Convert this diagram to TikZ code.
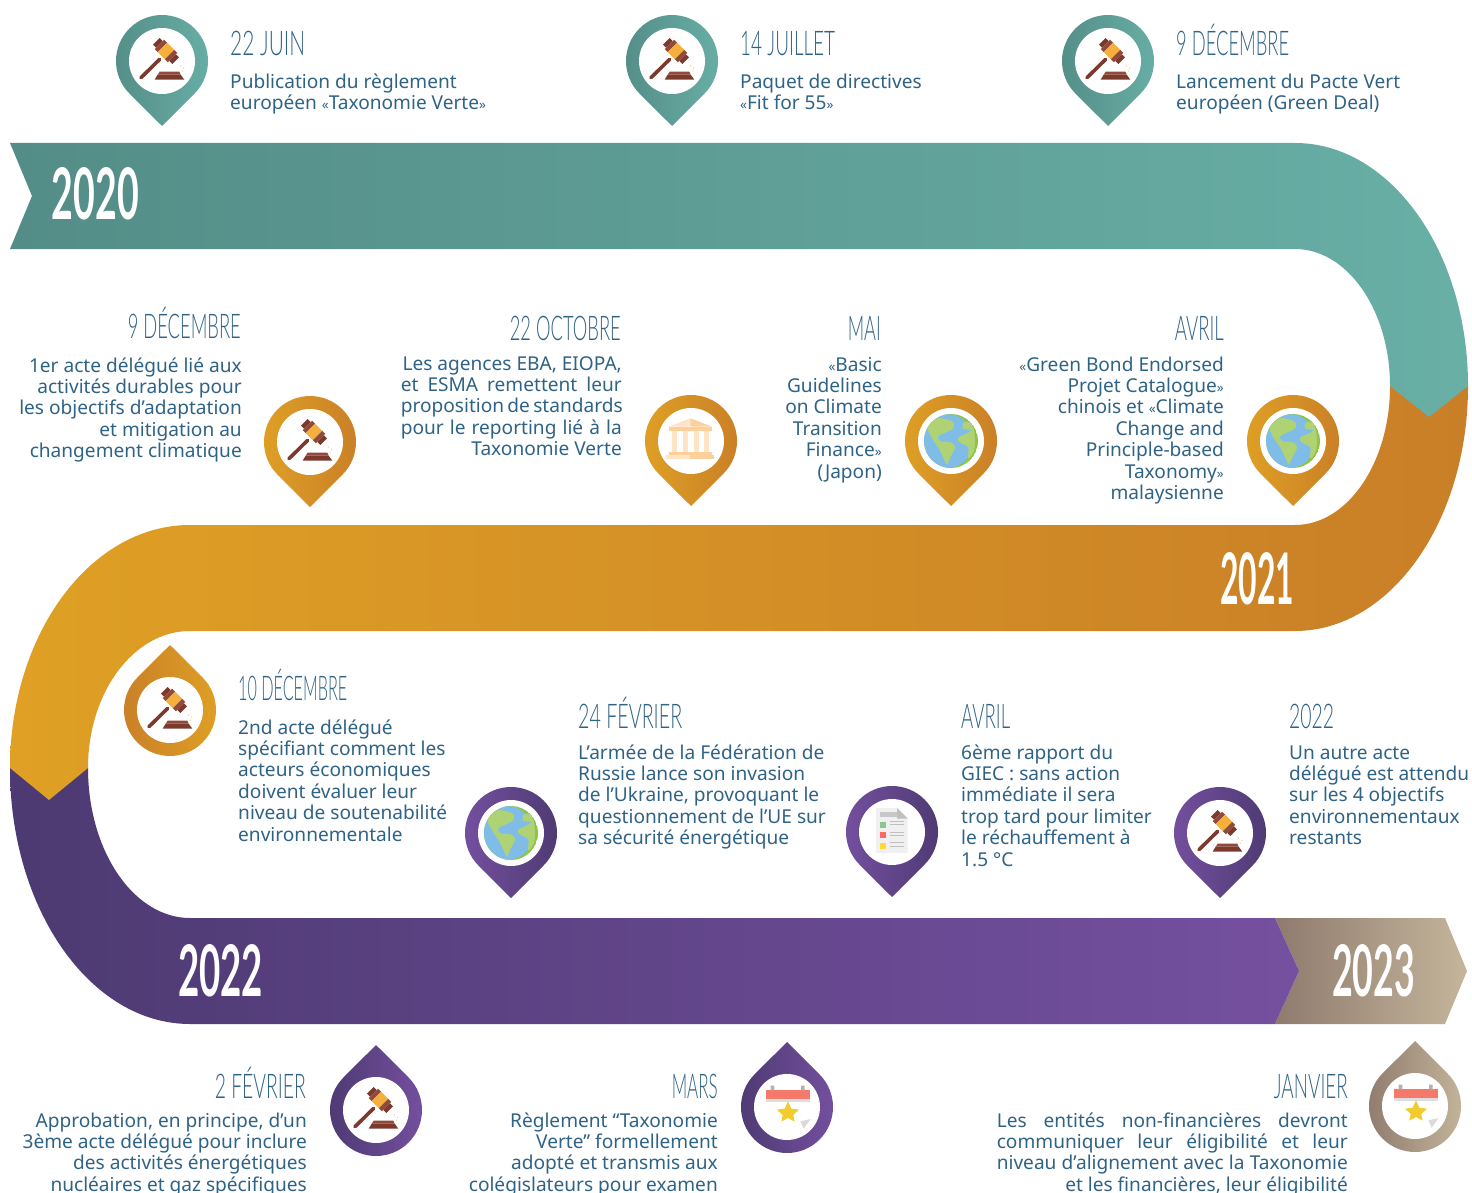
\documentclass[tikz,border=0pt]{standalone}
\usepackage{graphicx}
\usepackage{fontspec}
\setmainfont{Noto Sans}
\newfontfamily\headfam[FakeStretch=0.6]{Lato Light}
\newfontfamily\yearfam[FakeStretch=0.6]{Lato}
\definecolor{bodyc}{HTML}{2F6386}
\definecolor{tealL}{HTML}{548D87}\definecolor{tealR}{HTML}{68AFA6}
\definecolor{oraL}{HTML}{DFA025}\definecolor{oraR}{HTML}{C97F27}
\definecolor{purL}{HTML}{4D3A72}\definecolor{purR}{HTML}{7550A0}
\definecolor{begL}{HTML}{8F7B6E}\definecolor{begR}{HTML}{C4B59B}
\definecolor{wood}{HTML}{7C3A2E}\definecolor{woodl}{HTML}{8F4A3A}
\definecolor{gold}{HTML}{F6AE3D}
\definecolor{globeb}{HTML}{7FBDE8}\definecolor{greenl}{HTML}{AED274}\definecolor{greenr}{HTML}{8CC63F}
\definecolor{bankl}{HTML}{FEE3C4}\definecolor{bankd}{HTML}{FCD09A}
\definecolor{calred}{HTML}{F5796A}\definecolor{calstar}{HTML}{F2CC2E}
\tikzset{
 body/.style={inner sep=0pt,font=\fontsize{19.1}{21.4}\selectfont,text=bodyc},
 bl/.style={body,anchor=north west,align=left},
 br/.style={body,anchor=north east,align=right},
 headl/.style={inner sep=0pt,anchor=base west,text=bodyc,font=\headfam\fontsize{34}{36}\selectfont},
 headr/.style={inner sep=0pt,anchor=base east,text=bodyc,font=\headfam\fontsize{34}{36}\selectfont},
 yearlab/.style={inner sep=0pt,anchor=center,text=white,font=\yearfam\bfseries\fontsize{72}{72}\selectfont},
 icongavel/.pic={
  \begin{scope}[scale=0.3333]\begin{scope}[shift={(-485,-183)}]
   \draw[wood,line width=3.6pt,line cap=round] (422,233) -- (478,178);
   \begin{scope}[shift={(497,153)},rotate=45]
    \fill[wood] (-41,-14) rectangle (-28,14);
    \fill[woodl] (-28,-20) rectangle (-15,20);
    \fill[gold] (-15,-20) rectangle (15,20);
    \fill[woodl] (15,-20) rectangle (28,20);
    \fill[wood] (28,-14) rectangle (41,14);
   \end{scope}
   \fill[woodl] (478,215) -- (537,215) -- (541,224) -- (472,224) -- cycle;
   \fill[wood] (472,224) -- (541,224) -- (552,239) -- (463,239) -- cycle;
   \fill[gold!70] (540,198) circle (2) (550,205) circle (2) (547,213) circle (2);
  \end{scope}\end{scope}},
 iconglobe/.pic={
  \begin{scope}[scale=0.3333]\begin{scope}[shift={(-188,-215)}]
   \begin{scope}
    \clip (188,215) circle (81);
    \fill[greenr] (188,215) circle (81);
    \fill[globeb] (176,215) circle (81);
    \fill[greenl] plot[smooth cycle,tension=.6] coordinates {(118,172) (145,147) (190,155) (196,175) (170,190) (150,200) (155,215) (190,220) (200,235) (185,265) (175,285) (165,265) (150,235) (130,205)};
    \fill[greenl] plot[smooth cycle,tension=.6] coordinates {(210,205) (235,192) (250,182) (224,178) (226,160) (246,160) (258,190) (258,240) (240,268) (240,235) (225,225) (210,215)};
   \end{scope}
  \end{scope}\end{scope}},
 iconbank/.pic={
  \begin{scope}[scale=0.3333]\begin{scope}[shift={(-184,-183)}]
   \fill[bankl] (117,140) -- (182,115) -- (182,140) -- cycle;
   \fill[bankd] (182,115) -- (247,140) -- (182,140) -- cycle;
   \fill[bankd] (117,140) rectangle (247,153);
   \foreach \a in {128,160,192,224}{\fill[bankl] (\a,153) rectangle (\a+15,215);}
   \fill[bankd] (117,215) rectangle (247,226);
   \fill[bankl] (110,226) rectangle (182,237);
   \fill[bankd] (182,226) rectangle (252,237);
  \end{scope}\end{scope}},
 icondoc/.pic={
  \begin{scope}[scale=0.3333]\begin{scope}[shift={(-185,-187)}]
   \fill[black!6,rounded corners=1pt] (137,115) -- (200,115) -- (232,147) -- (232,250) -- (137,250) -- cycle;
   \fill[black!25] (200,115) -- (232,147) -- (200,147) -- cycle;
   \fill[black!22] (148,127) rectangle (200,142);
   \fill[green!50!black!45!white] (148,157) rectangle (166,175);
   \fill[red!60!white] (148,188) rectangle (166,206);
   \fill[yellow!70!orange!80!white] (148,220) rectangle (166,238);
   \foreach \b in {155,165,187,198,219,229}{\draw[black!25,line width=1pt] (178,\b) -- (222,\b);}
  \end{scope}\end{scope}},
 iconcal/.pic={
  \begin{scope}[scale=0.3333]\begin{scope}[shift={(-172,-230)}]
   \fill[black!13] (108,207) rectangle (240,214);
   \fill[calred] (108,178) rectangle (240,207);
   \fill[black!30] (123,166) rectangle (134,180) (214,166) rectangle (225,180);
   \fill[calstar] (175,213) -- (185,235) -- (208,238) -- (191,254) -- (195,274) -- (175,263) -- (155,274) -- (159,254) -- (142,238) -- (165,235) -- cycle;
   \fill[black!14] (212,273) -- (243,266) -- (222,295) -- cycle;
  \end{scope}\end{scope}},
}
% down pin: x,y,left,right,icon
\newcommand\pinD[5]{\begin{scope}[shift={(#1,#2)}]
 \shade[left color=#3,right color=#4] (0,65) -- (32.53,32.53) arc[start angle=45,end angle=-225,radius=46] -- cycle;
 \fill[white] (0,0) circle (33);
 \pic[transform shape] {#5};
 \end{scope}}
\newcommand\pinU[5]{\begin{scope}[shift={(#1,#2)}]
 \shade[left color=#3,right color=#4] (0,-65) -- (32.53,-32.53) arc[start angle=-45,end angle=225,radius=46] -- cycle;
 \fill[white] (0,0) circle (33);
 \pic[transform shape] {#5};
 \end{scope}}
\newcommand\js[2]{\makebox[#1pt][s]{#2}}
\newcommand\hw[2]{\resizebox{#1pt}{\height}{#2}}
\newcommand\yw[2]{\resizebox{#1pt}{52pt}{#2}}
\newcommand\gl{{\fontsize{13.5}{14}\selectfont «}}
\newcommand\gr{{\fontsize{13.5}{14}\selectfont »}}
\begin{document}
\begin{tikzpicture}[x=1pt,y=1pt,yscale=-1]
\useasboundingbox (0,0) rectangle (1472,1193);
\fill[white] (0,0) rectangle (1472,1193);
% ribbons
\shade[left color=begL,right color=begR] (1275,918) -- (1445,918) -- (1467,971) -- (1445,1024) -- (1275,1024) -- (1299,971) -- cycle;
\shade[left color=purL,right color=purR] (10,768) arc[start angle=180,end angle=90,x radius=180,y radius=256] -- (1275,1024) -- (1299,971) -- (1275,918) -- (190,918) arc[start angle=90,end angle=180,x radius=102,y radius=150] -- cycle;
\shade[left color=oraL,right color=oraR] (1468,386) arc[start angle=0,end angle=90,x radius=173,y radius=245] -- (190,631) arc[start angle=-90,end angle=-180,x radius=102,y radius=137] -- (49,800) -- (10,768) arc[start angle=180,end angle=270,x radius=180,y radius=243] -- (1295,525) arc[start angle=90,end angle=0,x radius=95,y radius=139] -- cycle;
\shade[left color=tealL,right color=tealR] (10,143) -- (1295,143) arc[start angle=-90,end angle=0,x radius=173,y radius=243] -- (1429,417) -- (1390,386) arc[start angle=0,end angle=-90,x radius=95,y radius=137] -- (10,249) -- (32,196) -- cycle;
% years
\node[yearlab] (y2020) at (95.5,194) {\yw{87}{2020}};
\node[yearlab] (y2021) at (1257,579) {\yw{74}{2021}};
\node[yearlab] (y2022) at (220.5,971) {\yw{85}{2022}};
\node[yearlab] (y2023) at (1373.5,971) {\yw{83}{2023}};
% pins
\pinD{162}{61}{tealL}{tealR}{icongavel}
\pinD{672}{61}{tealL}{tealR}{icongavel}
\pinD{1108}{61}{tealL}{tealR}{icongavel}
\pinD{310}{442}{oraL}{oraR}{icongavel}
\pinD{691}{441}{oraL}{oraR}{iconbank}
\pinD{951}{441}{oraL}{oraR}{iconglobe}
\pinD{1293}{441}{oraL}{oraR}{iconglobe}
\pinU{170}{710}{oraR}{oraL}{icongavel}
\pinD{511}{833}{purR}{purL}{iconglobe}
\pinD{892}{832}{purR}{purL}{icondoc}
\pinD{1220}{833}{purR}{purL}{icongavel}
\pinU{376}{1110}{purL}{purR}{icongavel}
\pinU{787}{1107}{purL}{purR}{iconcal}
\pinU{1415}{1106}{begL}{begR}{iconcal}
% headings
\node[headl] (h1) at (230,56) {\hw{75}{22 JUIN}};
\node[headl] (h2) at (740,56) {\hw{95}{14 JUILLET}};
\node[headl] (h3) at (1176,56) {\hw{113}{9 DÉCEMBRE}};
\node[headr] (h4) at (241,338) {\hw{113}{9 DÉCEMBRE}};
\node[headr] (h5) at (621,340) {\hw{111}{22 OCTOBRE}};
\node[headr] (h6) at (881,340) {\hw{33}{MAI}};
\node[headr] (h7) at (1224,340) {\hw{49}{AVRIL}};
\node[headl] (h8) at (238,700) {\hw{109}{10 DÉCEMBRE}};
\node[headl] (h9) at (578,728) {\hw{104}{24 FÉVRIER}};
\node[headl] (h10) at (961,728) {\hw{49}{AVRIL}};
\node[headl] (h11) at (1289,728) {\hw{45}{2022}};
\node[headr] (h12) at (306,1098) {\hw{91}{2 FÉVRIER}};
\node[headr] (h13) at (718,1098) {\hw{46}{MARS}};
\node[headr] (h14) at (1348,1098) {\hw{74}{JANVIER}};
% bodies (node top = first baseline - 15)
\node[bl] (t1) at (230,73) {\strut Publication du règlement\\européen \gl Taxonomie Verte\gr};
\node[bl] (t2) at (740,73) {\strut Paquet de directives\\\gl Fit for 55\gr};
\node[bl] (t3) at (1176,73) {\strut Lancement du Pacte Vert\\européen (Green Deal)};
\node[br] (t4) at (242,357) {\strut 1er acte délégué lié aux\\activités durables pour\\les objectifs d’adaptation\\et mitigation au\\changement climatique};
\node[br] (t5) at (622,355) {\strut Les agences EBA, EIOPA,\\\js{221}{et ESMA remettent leur}\\\js{221}{proposition de standards}\\\js{221}{pour le reporting lié à la}\\Taxonomie Verte};
\node[br] (t6) at (882,356) {\strut \gl Basic\\Guidelines\\on Climate\\Transition\\Finance\gr\\(Japon)};
\node[br] (t7) at (1224,356) {\strut \gl Green Bond Endorsed\\Projet Catalogue\gr\\chinois et \gl Climate\\Change and\\Principle-based\\Taxonomy\gr\\malaysienne};
\node[bl] (t8) at (238,719) {\strut 2nd acte délégué\\spécifiant comment les\\acteurs économiques\\doivent évaluer leur\\niveau de soutenabilité\\environnementale};
\node[bl] (t9) at (578,744) {\strut L’armée de la Fédération de\\Russie lance son invasion\\de l’Ukraine, provoquant le\\questionnement de l’UE sur\\sa sécurité énergétique};
\node[bl] (t10) at (961,744) {\strut 6ème rapport du\\GIEC : sans action\\immédiate il sera\\trop tard pour limiter\\le réchauffement à\\1.5 °C};
\node[bl] (t11) at (1289,744) {\strut Un autre acte\\délégué est attendu\\sur les 4 objectifs\\environnementaux\\restants};
\node[br] (t12) at (307,1112) {\strut Approbation, en principe, d’un\\3ème acte délégué pour inclure\\des activités énergétiques\\nucléaires et gaz spécifiques};
\node[br] (t13) at (718,1112) {\strut Règlement “Taxonomie\\Verte” formellement\\adopté et transmis aux\\colégislateurs pour examen};
\node[br] (t14) at (1348,1112) {\strut\js{351}{Les entités non-financières devront}\\\js{351}{communiquer leur éligibilité et leur}\\\js{351}{niveau d’alignement avec la Taxonomie}\\et les financières, leur éligibilité};
\end{tikzpicture}
\end{document}
